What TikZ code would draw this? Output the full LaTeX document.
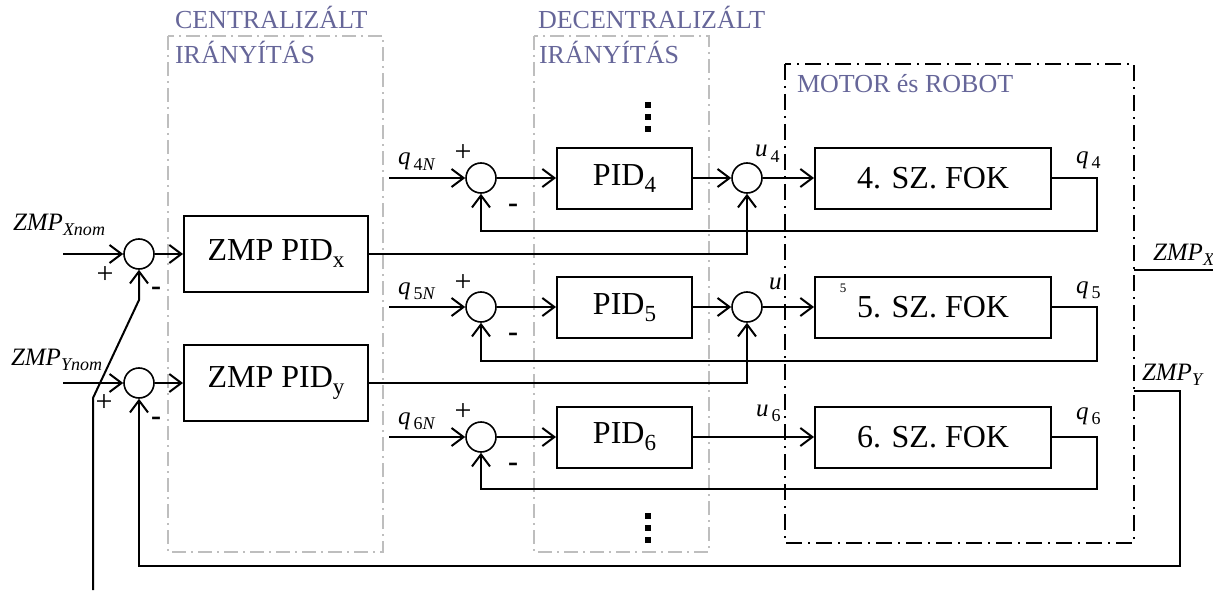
\documentclass[tikz,border=0pt]{standalone}
\usepackage{fontspec}
\setmainfont{Liberation Serif}
\usetikzlibrary{arrows.meta}
\definecolor{titleblue}{RGB}{102,102,153}
\definecolor{framegray}{RGB}{190,190,190}
\makeatletter
\newcommand{\lowidx}[1]{\raisebox{-0.22em}{\fontsize{\fpeval{0.72*\f@size}}{1}\selectfont #1}}
\makeatother

\begin{document}
\begin{tikzpicture}[x=0.5pt, y=-0.5pt, line width=1pt,
    block/.style={draw, minimum height=30.5pt, inner sep=0pt, font=\fontsize{16}{19}\selectfont},
    sum/.style={circle, draw, line width=0.8pt, minimum size=15pt, inner sep=0pt},
    lbl/.style={inner sep=0pt, anchor=base west, font=\fontsize{12.5}{15}\selectfont},
    sgn/.style={inner sep=0pt, font=\fontsize{15}{17}\selectfont},
    title/.style={inner sep=0pt, anchor=base west, text=titleblue, font=\fontsize{13}{15}\selectfont},
    grayframe/.style={draw=framegray, line width=0.8pt, dash pattern=on 7pt off 2.5pt on 1pt off 2.5pt},
    motorframe/.style={draw=black, line width=0.9pt, dash pattern=on 8pt off 3pt on 1pt off 3pt},
    arr/.style={-{Straight Barb[length=6pt,width=9pt]}}]
            \useasboundingbox (0, 0) rectangle (1213, 593);

            % Frames
            \draw[grayframe] (168, 36) rectangle (383, 552);
            \draw[grayframe] (534, 36) rectangle (709, 552);
            \draw[motorframe] (785, 64) rectangle (1134, 543);
            \node (tC1) at (174, 29) [title] {CENTRALIZÁLT};
            \node (tC2) at (174, 64) [title] {IRÁNYÍTÁS};
            \node (tD1) at (537, 29) [title] {DECENTRALIZÁLT};
            \node (tD2) at (538, 64) [title] {IRÁNYÍTÁS};
            \node (tM) at (796, 93) [title] {MOTOR és ROBOT};

            % Centralized ZMP loop (left)
            \node (SX) at (139, 254) [sum] {};
            \node (SY) at (139, 383) [sum] {};
            \node (ZPx) at (276, 254) [block, minimum width=92pt, minimum height=38pt] {ZMP PID\lowidx{x}};
            \node (ZPy) at (276, 383) [block, minimum width=92pt, minimum height=38pt] {ZMP PID\lowidx{y}};
            \coordinate (inX) at (63, 254);
            \coordinate (inY) at (63, 383);
            \node (lXnom) at (12, 230) [lbl] {\textit{ZMP}\lowidx{\textit{Xnom}}};
            \node (lYnom) at (10, 365) [lbl] {\textit{ZMP}\lowidx{\textit{Ynom}}};
            \node (pX) at (105, 275) [sgn] {+};
            \node (mX) at (156, 291) [sgn] {\bfseries -};
            \node (pY) at (104, 403) [sgn] {+};
            \node (mY) at (156, 421) [sgn] {\bfseries -};

            \draw[arr] (inX) -- (SX);
            \draw[arr] (inY) -- (SY);
            \draw[arr] (SX) -- (ZPx);
            \draw[arr] (SY) -- (ZPy);

            % Decentralized joint loops (middle)
            \node (S4) at (481, 178) [sum] {};
            \node (S5) at (481, 307) [sum] {};
            \node (S6) at (481, 437) [sum] {};
            \node (P4) at (624.5, 178.5) [block, minimum width=67.5pt] {PID\lowidx{4}};
            \node (P5) at (624.5, 307.5) [block, minimum width=67.5pt] {PID\lowidx{5}};
            \node (P6) at (624.5, 437) [block, minimum width=67.5pt] {PID\lowidx{6}};
            \node (U4) at (747, 178) [sum] {};
            \node (U5) at (747, 307) [sum] {};
            \coordinate (in4) at (389, 178);
            \coordinate (in5) at (389, 307);
            \coordinate (in6) at (389, 437);
            \node (l4N) at (397, 165) [lbl] {\textit{q}\kern1.5pt\lowidx{4\textit{N}}};
            \node (l5N) at (397, 294) [lbl] {\textit{q}\kern1.5pt\lowidx{5\textit{N}}};
            \node (l6N) at (397, 424) [lbl] {\textit{q}\kern1.5pt\lowidx{6\textit{N}}};
            \node (p4) at (463, 153) [sgn] {+};
            \node (m4) at (513, 208) [sgn] {\bfseries -};
            \node (p5) at (463, 283) [sgn] {+};
            \node (m5) at (513, 337) [sgn] {\bfseries -};
            \node (p6) at (463, 412) [sgn] {+};
            \node (m6) at (513, 467) [sgn] {\bfseries -};

            \foreach \y in {102, 114, 126, 513, 525, 537}
                \fill (645, \y) rectangle ++(6, 6);

            \draw[arr] (in4) -- (S4);
            \draw[arr] (in5) -- (S5);
            \draw[arr] (in6) -- (S6);
            \draw[arr] (S4) -- (P4.west |- S4);
            \draw[arr] (S5) -- (P5.west |- S5);
            \draw[arr] (S6) -- (P6);
            \draw[arr] (P4.east |- U4) -- (U4);
            \draw[arr] (P5.east |- U5) -- (U5);

            % Motor and robot (right)
            \node (F4) at (933, 178.5) [block, minimum width=118pt] {4. SZ. FOK};
            \node (F5) at (933, 307) [block, minimum width=118pt] {5. SZ. FOK};
            \node (F6) at (933, 437) [block, minimum width=118pt] {6. SZ. FOK};
            \node (l5s) at (843, 288) [inner sep=0pt, font=\fontsize{6.5}{8}\selectfont] {5};
            \node (lu4) at (754, 157) [lbl] {\textit{u}\kern1.5pt\lowidx{4}};
            \node (lu5) at (768, 289) [lbl] {\textit{u}};
            \node (lu6) at (755, 416) [lbl] {\textit{u}\kern1.5pt\lowidx{6}};
            \node (lq4) at (1075, 163) [lbl] {\textit{q}\kern1.5pt\lowidx{4}};
            \node (lq5) at (1075, 293) [lbl] {\textit{q}\kern1.5pt\lowidx{5}};
            \node (lq6) at (1075, 419) [lbl] {\textit{q}\kern1.5pt\lowidx{6}};

            \draw[arr] (U4) -- (F4.west |- U4);
            \draw[arr] (U5) -- (F5.west |- U5);
            \draw[arr] (P6.east |- F6) -- (F6);

            % Joint feedbacks
            \coordinate (c4) at (1097, 231);
            \coordinate (c5) at (1097, 361);
            \coordinate (c6) at (1097, 489);
            \draw[arr] (F4.east |- U4) -| (c4) -| (S4.south);
            \draw[arr] (F5.east |- U5) -| (c5) -| (S5.south);
            \draw[arr] (F6.east) -| (c6) -| (S6.south);

            % ZMP corrections into the joint loops
            \draw[arr] (ZPx.east) -| (U4.south);
            \draw[arr] (ZPy.east) -| (U5.south);

            % ZMP outputs and feedbacks
            \coordinate (zxa) at (1134, 270);
            \coordinate (zxb) at (1213, 270);
            \node (lZX) at (1152, 260) [lbl] {\textit{ZMP}\lowidx{\textit{X}}};
            \draw (zxa) -- (zxb);
            \coordinate (zx0) at (93, 590);
            \coordinate (zx1) at (93, 398);
            \coordinate (zx2) at (139, 300);
            \draw[arr] (zx0) -- (zx1) -- (zx2) -- (SX.south);

            \coordinate (zya) at (1134, 391);
            \coordinate (zyc) at (1180, 566);
            \node (lZY) at (1141, 380) [lbl] {\textit{ZMP}\lowidx{\textit{Y}}};
            \draw[arr] (zya) -| (zyc) -| (SY.south);
        \end{tikzpicture}
\end{document}
